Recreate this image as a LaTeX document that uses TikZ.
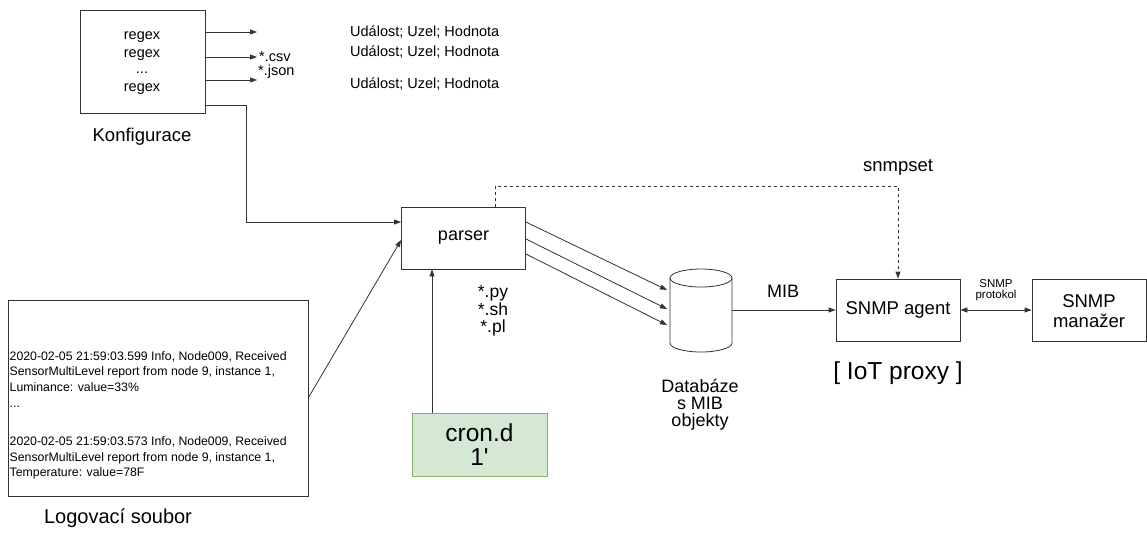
\documentclass[tikz,border=0pt]{standalone}
\usepackage{fontspec}
\setmainfont{Liberation Sans}
\newfontfamily\rawfont{Liberation Sans}
\usetikzlibrary{arrows.meta}
\definecolor{lineclr}{HTML}{333333}
\definecolor{cronfill}{HTML}{D5E8D4}
\definecolor{cronline}{HTML}{82B366}
\begin{document}
\begin{tikzpicture}[x=1pt,y=-1pt,
  box/.style={draw=lineclr,line width=0.8pt,minimum width=#1,inner sep=0pt},
  conn/.style={draw=lineclr,line width=0.8pt,-{Triangle[length=7pt,width=5pt]}},
  lbl/.style={inner sep=0pt,align=center},
  fs/.style={font=\fontsize{#1}{#1}\selectfont}]
\useasboundingbox (0,0) rectangle (1147,536);

% Konfigurace
\node[box=125pt,minimum height=103pt,anchor=north west] (konf) at (80,10) {};
\node[lbl,fs=14.5,align=center] (regex) at (142,63) {regex\\[3pt]regex\\[2pt]...\\[3pt]regex};
\node[lbl,fs=18.5] (konflbl) at (142,137) {Konfigurace};
\coordinate (o1) at (257,32);
\coordinate (o2) at (257,57);
\coordinate (o3) at (257,80);
\draw[conn] (konf.east |- o1) -- (o1);
\draw[conn] (konf.east |- o2) -- (o2);
\draw[conn,line width=0.5pt] (konf.east |- o3) -- (o3);
\node[lbl,fs=14.5,anchor=west] (csv) at (259,57) {*.csv};
\node[lbl,fs=14.5,anchor=west] (json) at (258,72) {*.json};
\node[lbl,fs=14.5,anchor=west] (u1) at (350,32) {Událost; Uzel; Hodnota};
\node[lbl,fs=14.5,anchor=west] (u2) at (350,52) {Událost; Uzel; Hodnota};
\node[lbl,fs=14.5,anchor=west] (u3) at (350,84) {Událost; Uzel; Hodnota};

% parser
\node[box=124pt,minimum height=62pt] (parser) at (463.5,238) {};
\node[lbl,fs=18] (parserlbl) at (463.5,238) {parser};
\coordinate (k1) at (246,105);
\draw[conn] (konf.east |- k1) -- (k1) |- (parser.west |- 0,222);

% Log file
\node[box=300pt,minimum height=196pt,anchor=north west] (log) at (8,300) {};
\node[lbl,fs=12.3,anchor=north west,align=left] (logtxt) at (9.5,351)
 {2020-02-05 21:59:03.599 Info, Node009, Received\\[3.5pt]
  SensorMultiLevel report from node 9, instance 1,\\[3.5pt]
  Luminance: value=33\%\\[3pt]
  ...\\[26pt]
  2020-02-05 21:59:03.573 Info, Node009, Received\\[3.5pt]
  SensorMultiLevel report from node 9, instance 1,\\[3.5pt]
  Temperature: value=78F};
\node[lbl,fs=20] (loglbl) at (118,518) {Logovací soubor};
\draw[conn] (log.east |- 0,397) -- (parser.west |- 0,240);

% cron
\node[draw=cronline,fill=cronfill,line width=0.8pt,minimum width=135pt,minimum height=63pt,inner sep=0pt] (cron) at (479.5,444.5) {};
\node[lbl,fs=24.5] (cronlbl) at (479.5,444.5) {cron.d\\[0pt]{\rawfont 1'}};
\draw[conn] (cron.north -| 432,0) -- (parser.south -| 432,0);

\node[lbl,fs=17.5] (ext) at (493,311) {*.py\\[0pt]*.sh\\[0pt]*.pl};

% database (cylinder drawn directly)
\node[inner sep=0pt,minimum width=62pt,minimum height=83pt] (db) at (701,310.5) {};
\draw[lineclr,line width=0.8pt,fill=white]
  (670,278) -- (670,343) arc[start angle=180,end angle=360,x radius=31pt,y radius=9pt]
  -- (732,278);
\draw[lineclr,line width=0.8pt] (701,278) ellipse[x radius=31pt,y radius=9pt];
\draw[conn] (parser.east |- 0,222) -- (667,290) coordinate (d1);
\draw[conn] (parser.east |- 0,239) -- (667,309) coordinate (d2);
\draw[conn] (parser.east |- 0,254) -- (667,325) coordinate (d3);
\node[lbl,fs=18] (dblbl) at (700,405) {Databáze\\[-1pt]s MIB\\[-1pt]objekty};

% SNMP agent
\node[box=124pt,minimum height=62pt] (agent) at (898,310) {};
\node[lbl,fs=18.5] (agentlbl) at (898,310) {SNMP agent};
\draw[conn] (db.east |- agent.west) -- (agent.west);
\node[lbl,fs=18] (mib) at (783,291) {MIB};
\node[lbl,fs=24.5] (iot) at (898,373) {[ IoT proxy ]};

% SNMP manager
\node[box=114pt,minimum height=62pt] (mgr) at (1089,310) {};
\node[lbl,fs=18.5] (mgrlbl) at (1089,311) {SNMP\\[1pt]manažer};
\draw[draw=lineclr,line width=0.8pt,{Triangle[length=7pt,width=5pt]}-{Triangle[length=7pt,width=5pt]}] (agent.east) -- (mgr.west);
\node[lbl,fs=11.5] (proto) at (996,290) {SNMP\\[0pt]protokol};

% snmpset
\coordinate (s1) at (495,186);
\coordinate (s2) at (898,186);
\draw[conn,dashed] (parser.north -| s1) -- (s1) -- (s2) -- (agent.north);
\node[lbl,fs=18.5] (snmpset) at (898,167) {snmpset};
\end{tikzpicture}
\end{document}
